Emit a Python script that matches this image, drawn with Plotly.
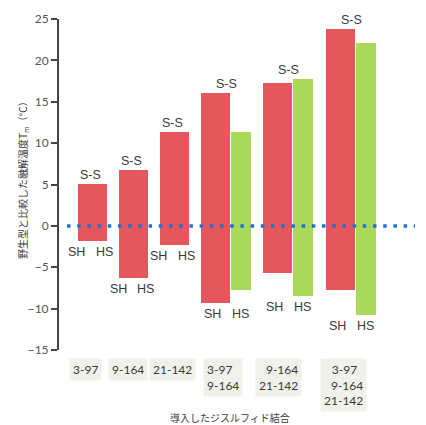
import plotly.graph_objects as go

# ---- data ----
categories = ["3-97", "9-164", "21-142", "3-97<br>9-164", "9-164<br>21-142", "3-97  <br>9-164<br>21-142"]
sh_top = [5.1, 6.8, 11.3, 16.1, 17.3, 23.8]
sh_bottom = [-1.8, -6.3, -2.3, -9.3, -5.7, -7.7]
hs_top = [None, None, None, 11.4, 17.8, 22.1]
hs_bottom = [None, None, None, -7.7, -8.5, -10.8]
y_ticks = [-15, -10, -5, 0, 5, 10, 15, 20, 25]

# ---- layout constants (x axis in pixel-like units) ----
GROUP_X = [31, 72.5, 113, 167, 229, 292]
SINGLE_OFF = 2
RED_OFF = -10.5
GREEN_OFF = 14.5
RED_W = 29
GREEN_W = 20
CAT_ANCHOR = [("center", 26), ("center", 69), ("center", 113), ("left", 144), ("right", 243), ("right", 308)]

RED = "#e4585d"
GREEN = "#a9d85b"
TXT = "#3a3a3a"

fig = go.Figure()

red_x, red_base, red_len = [], [], []
grn_x, grn_base, grn_len = [], [], []
for i, gx in enumerate(GROUP_X):
    if hs_top[i] is None:
        red_x.append(gx + SINGLE_OFF)
    else:
        red_x.append(gx + RED_OFF)
        grn_x.append(gx + GREEN_OFF)
        grn_base.append(hs_bottom[i])
        grn_len.append(hs_top[i] - hs_bottom[i])
    red_base.append(sh_bottom[i])
    red_len.append(sh_top[i] - sh_bottom[i])

fig.add_trace(go.Bar(x=red_x, y=red_len, base=red_base, width=RED_W,
                     marker=dict(color=RED, line=dict(width=0)), showlegend=False,
                     hoverinfo="skip"))
fig.add_trace(go.Bar(x=grn_x, y=grn_len, base=grn_base, width=GREEN_W,
                     marker=dict(color=GREEN, line=dict(width=0)), showlegend=False,
                     hoverinfo="skip"))

# zero dotted line
fig.add_shape(type="line", xref="x", yref="y", x0=8, x1=356, y0=0, y1=0,
              line=dict(color="#1f6fd6", width=3.5, dash="3.5px,6.7px"), layer="above")

annos = []
for i, gx in enumerate(GROUP_X):
    top = max(sh_top[i], hs_top[i] if hs_top[i] is not None else -99)
    bot = min(sh_bottom[i], hs_bottom[i] if hs_bottom[i] is not None else 99)
    annos.append(dict(x=gx, y=top, xref="x", yref="y", text="S-S", showarrow=False,
                      yanchor="bottom", yshift=0,
                      font=dict(family="Liberation Sans, Arial", size=12.5, color=TXT)))
    annos.append(dict(x=gx - 13.5, y=bot, xref="x", yref="y", text="SH", showarrow=False,
                      yanchor="top", yshift=-2,
                      font=dict(family="Liberation Sans, Arial", size=12.5, color=TXT)))
    annos.append(dict(x=gx + 14, y=bot, xref="x", yref="y", text="HS", showarrow=False,
                      yanchor="top", yshift=-2,
                      font=dict(family="Liberation Sans, Arial", size=12.5, color=TXT)))
    anchor, cx = CAT_ANCHOR[i]
    annos.append(dict(x=cx, y=0, xref="x", yref="paper", text=categories[i], showarrow=False,
                      xanchor=anchor, align=anchor if anchor != "center" else "center",
                      yanchor="top", yshift=-8, bgcolor="#f1f1ec", borderpad=3,
                      font=dict(family="Lato, Open Sans", size=12, color=TXT)))

annos.append(dict(x=(230 - 59) / 357, y=0, xref="paper", yref="paper",
                  text="導入したジスルフィド結合", showarrow=False,
                  yanchor="middle", yshift=-67,
                  font=dict(family="Noto Sans CJK JP", size=10, color=TXT)))
annos.append(dict(x=(23 - 59) / 357, y=0.52, xref="paper", yref="paper",
                  text="野生型と比較した融解温度T<sub>m</sub>（°C）", showarrow=False,
                  textangle=-90, xanchor="center", yanchor="middle",
                  font=dict(family="Noto Sans CJK JP", size=10, color=TXT)))

fig.update_layout(
    width=426, height=425,
    margin=dict(l=59, r=10, t=19, b=75),
    paper_bgcolor="white", plot_bgcolor="white",
    barmode="overlay", bargap=0,
    xaxis=dict(range=[0, 357], visible=False, fixedrange=True),
    yaxis=dict(range=[-15, 25], tickvals=y_ticks, ticks="outside", ticklen=6, tickwidth=1.5,
               tickcolor="#444", showline=True, linecolor="#444", linewidth=2,
               showgrid=False, zeroline=False,
               tickfont=dict(family="Lato, Open Sans", size=12, color="#555")),
    annotations=annos,
)

fig.write_html("out.html", config={"displayModeBar": False},
               post_script="document.body.style.margin='0';document.body.style.overflow='hidden';")
